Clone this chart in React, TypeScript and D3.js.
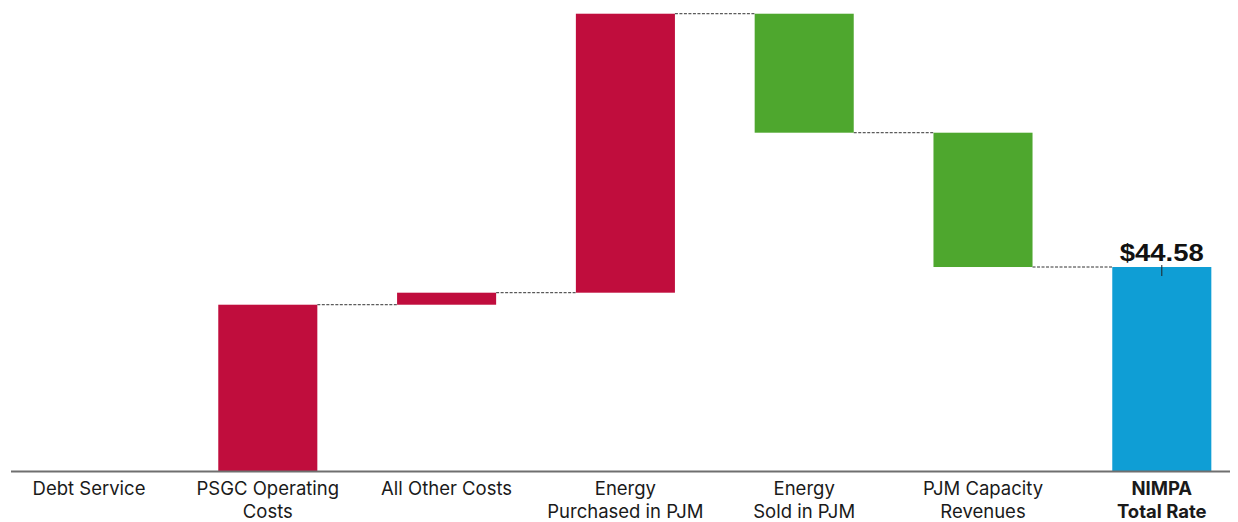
import React from "react";
import * as d3 from "d3";

const categories = [
  "Debt Service",
  "PSGC Operating|Costs",
  "All Other Costs",
  "Energy|Purchased in PJM",
  "Energy|Sold in PJM",
  "PJM Capacity|Revenues",
  "NIMPA|Total Rate",
];
// Incremental steps (positive = cost, negative = revenue credit)
const steps = [0, 36.36, 2.62, 60.82, -25.94, -29.28];
const totalRate = 44.58;
const totalLabel = "$44.58";

const W = 1238;
const H = 522;
const COST = "#C00D3D";
const CREDIT = "#4EA72E";
const TOTAL = "#0F9ED5";

export default function App() {
  const x = d3
    .scaleBand<string>()
    .domain(categories)
    .range([-0.4, 1251.2])
    .paddingInner(0.446)
    .paddingOuter(0.223);
  const y = d3.scaleLinear().domain([0, 100]).range([471.5, 12.8]);

  type Bar = { cat: string; start: number; end: number; color: string };
  const bars: Bar[] = [];
  let run = 0;
  steps.forEach((v, i) => {
    bars.push({ cat: categories[i], start: run, end: run + v, color: v >= 0 ? COST : CREDIT });
    run += v;
  });
  bars.push({ cat: categories[categories.length - 1], start: 0, end: totalRate, color: TOTAL });

  const bw = x.bandwidth();
  const totalX = (x(categories[categories.length - 1]) as number) + bw / 2;

  return (
    <svg
      width={W}
      height={H}
      style={{ position: "absolute", left: 0, top: 0, background: "#fff" }}
      fontFamily="Inter, 'Open Sans', sans-serif"
    >
      {/* connectors between consecutive bars */}
      {bars.slice(0, -1).map((b, i) => {
        const next = bars[i + 1];
        const x1 = (x(b.cat) as number) + bw;
        const x2 = x(next.cat) as number;
        return (
          <line
            key={"c" + i}
            x1={x1}
            x2={x2}
            y1={y(b.end)}
            y2={y(b.end)}
            stroke="#333"
            strokeWidth={1}
            strokeDasharray="3,1.5"
          />
        );
      })}
      {bars.map((b, i) => {
        const top = y(Math.max(b.start, b.end));
        const bot = y(Math.min(b.start, b.end));
        return (
          <rect
            key={"b" + i}
            x={x(b.cat)}
            y={top}
            width={bw}
            height={Math.max(0, bot - top)}
            fill={b.color}
          />
        );
      })}
      {/* axis baseline */}
      <line x1={11} x2={1230} y1={y(0)} y2={y(0)} stroke="#6f6f6f" strokeWidth={2} />
      {/* category labels */}
      {categories.map((c, i) => {
        const lines = c.split("|");
        const cx = (x(c) as number) + bw / 2;
        const bold = i === categories.length - 1;
        return (
          <text
            key={"t" + i}
            x={cx}
            textAnchor="middle"
            fontSize={18.5}
            fontWeight={bold ? 700 : 400}
            fill="#1a1a1a"
          >
            {lines.map((l, j) => (
              <tspan key={j} x={cx} y={495 + j * 22.5}>
                {l}
              </tspan>
            ))}
          </text>
        );
      })}
      {/* total value label with leader tick */}
      <line x1={totalX} x2={totalX} y1={y(totalRate) - 2} y2={y(totalRate) + 9} stroke="#222" strokeWidth={1} />
      <text
        x={totalX}
        y={261}
        textAnchor="middle"
        fontFamily="'Liberation Sans', Arial, sans-serif"
        fontWeight={700}
        fontSize={23}
        textLength={84}
        lengthAdjust="spacingAndGlyphs"
        fill="#111"
      >
        {totalLabel}
      </text>
    </svg>
  );
}
